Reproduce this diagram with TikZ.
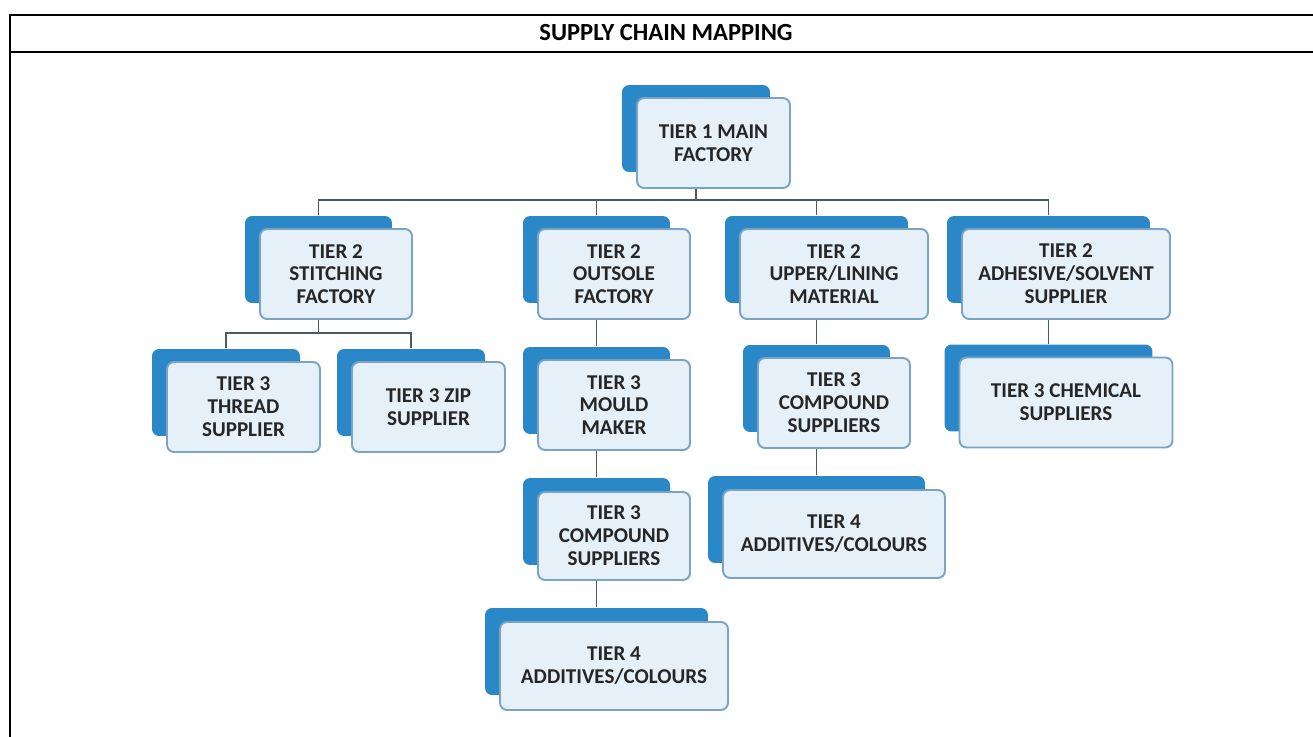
\documentclass[tikz,border=0pt]{standalone}
\usepackage{fontspec}
\setmainfont{Carlito}
\definecolor{tierblue}{HTML}{2A88C8}
\definecolor{tierfill}{HTML}{E6F0F9}
\definecolor{tierline}{HTML}{7AA3C4}
\definecolor{linkgray}{HTML}{4D5A60}
\begin{document}
\begin{tikzpicture}[x=0.02cm, y=-0.02cm, thick,main node/.style={rectangle,draw=tierline,fill=tierfill,line width=1.1pt,rounded corners=4pt,minimum width=#1,minimum height=1.8cm,inner sep=0pt,align=center},back node/.style={rectangle,fill=tierblue,rounded corners=4pt,minimum width=#1,minimum height=1.74cm,inner sep=0pt},link/.style={draw=linkgray,line width=1.1pt}]
\useasboundingbox (0,0) rectangle (1313,737);
\clip (0,0) rectangle (1313,737);
% frame and title
\draw[line width=1.6pt] (1330,15) -- (10,15) -- (10,760);
\draw[line width=1.6pt] (10,52) -- (1330,52);
\node[font=\bfseries\fontsize{14}{16}\selectfont] (title) at (666,33) {SUPPLY CHAIN MAPPING};
\begin{scope}
\node[back node=2.96cm] (t1s) at (696,128.5) {};
\node[back node=2.94cm] (t2as) at (318.5,259.5) {};
\node[back node=2.94cm] (t2bs) at (596.5,259.5) {};
\node[back node=3.66cm] (t2cs) at (816.5,259.5) {};
\node[back node=4.06cm] (t2ds) at (1048.5,259.5) {};
\node[back node=2.96cm] (t3as) at (226,392.5) {};
\node[back node=2.96cm] (t3bs) at (411,392.5) {};
\node[back node=2.94cm] (t3cs) at (596.5,390.5) {};
\node[back node=2.94cm] (t3ds) at (596.5,521.5) {};
\node[back node=2.94cm] (t3es) at (816.5,388.5) {};
\node[back node=4.16cm] (t3fs) at (1048.5,388) {};
\node[back node=4.46cm] (t4as) at (596.5,651.5) {};
\node[back node=4.34cm] (t4bs) at (816.5,519.5) {};
%\node[back node=] (s) at (,) {};
\end{scope}
\begin{scope}[every node/.style={font=\bfseries\fontsize{12}{13}\selectfont,text=black!85}]
\node[main node=3.06cm] (t1) at (713.5,143) {TIER 1 MAIN\\FACTORY};
\node[main node=3.04cm] (t2a) at (336,274) {TIER 2\\STITCHING\\FACTORY};
\node[main node=3.04cm] (t2b) at (614,274) {TIER 2\\OUTSOLE\\FACTORY};
\node[main node=3.76cm] (t2c) at (834,274) {TIER 2\\UPPER/LINING\\MATERIAL};
\node[main node=4.16cm] (t2d) at (1066,274) {TIER 2\\ADHESIVE/SOLVENT\\SUPPLIER};
\node[main node=3.06cm] (t3a) at (243.5,407) {TIER 3\\THREAD\\SUPPLIER};
\node[main node=3.06cm] (t3b) at (428.5,407) {TIER 3 ZIP\\SUPPLIER};
\node[main node=3.04cm] (t3c) at (614,405) {TIER 3\\MOULD\\MAKER};
\node[main node=3.04cm,minimum height=1.76cm] (t3d) at (614,536) {TIER 3\\COMPOUND\\SUPPLIERS};
\node[main node=3.04cm] (t3e) at (834,403) {TIER 3\\COMPOUND\\SUPPLIERS};
\node[main node=4.26cm] (t3f) at (1066,402.5) {TIER 3 CHEMICAL\\SUPPLIERS};
\node[main node=4.56cm,minimum height=1.76cm] (t4a) at (614,666) {TIER 4\\ADDITIVES/COLOURS};
\node[main node=4.44cm,minimum height=1.76cm] (t4b) at (834,534) {TIER 4\\ADDITIVES/COLOURS};
%\node[main node=] (t) at (,) {};
\end{scope}
\begin{scope}
\coordinate (bus1) at (696,200);
\coordinate (bus2) at (318.5,333);
\draw[link] (t1.south -| t1s) -- (bus1);
\draw[link] (t2as.north) |- (bus1) -| (t2ds.north);
\draw[link] (t2bs.north) -- (t2bs.north |- bus1);
\draw[link] (t2cs.north) -- (t2cs.north |- bus1);
\draw[link] (t2a.south -| t2as) -- (bus2);
\draw[link] (t3as.north) |- (bus2) -| (t3bs.north);
\draw[link] (t2b.south -| t2bs) -- (t3cs.north);
\draw[link] (t3c.south -| t3cs) -- (t3ds.north);
\draw[link] (t3d.south -| t3ds) -- (t4as.north);
\draw[link] (t2c.south -| t2cs) -- (t3es.north);
\draw[link] (t3e.south -| t3es) -- (t4bs.north);
\draw[link] (t2d.south -| t2ds) -- (t3fs.north);
%\draw[link] () -- ();
\end{scope}
\end{tikzpicture}
\end{document}
